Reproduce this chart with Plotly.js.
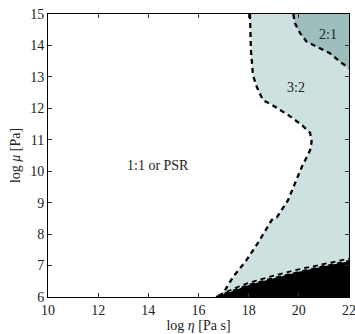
<!DOCTYPE html>
<html><head><meta charset="utf-8">
<script src="https://cdn.plot.ly/plotly-3.0.1.min.js"></script>
<style>html,body{margin:0;padding:0;background:#fff}#c{width:355px;height:334px}</style>
</head><body><div id="c"></div>
<script>
// Boundary between 1:1/PSR and 3:2 (log eta, log mu)
const b32x = [18.05,18.09,18.17,18.32,18.57,18.93,19.57,20.12,20.45,20.51,20.45,20.12,19.85,19.57,19.13,18.92,18.37,17.92,17.38,17.06,16.86];
const b32y = [15.0,13.85,13.06,12.69,12.26,12.11,11.79,11.47,11.22,10.94,10.67,10.14,9.62,9.08,8.54,8.45,7.72,7.18,6.64,6.22,6.03];
// Boundary of 2:1 region
const b21x = [19.78,19.85,20.05,20.31,20.71,21.24,21.64,21.91,22.0];
const b21y = [15.0,14.70,14.39,14.12,13.96,13.75,13.48,13.32,13.28];
// Top of black region
const blkx = [16.7,17.4,18.0,19.0,20.0,21.0,22.0];
const blky = [6.0,6.2,6.38,6.6,6.8,6.98,7.14];
// Upper dashed line just above black region
const upx = [16.8,17.5,18.0,19.0,20.0,21.0,22.0];
const upy = [6.05,6.3,6.45,6.68,6.88,7.05,7.22];
const xTicks = [10,12,14,16,18,20,22];
const yTicks = [6,7,8,9,10,11,12,13,14,15];
const labels = [{t:'2:1',x:21.18,y:14.36},{t:'3:2',x:19.89,y:12.65},{t:'1:1 or PSR',x:14.39,y:10.17}];

const light = 'rgb(206,225,225)', dark = 'rgb(158,190,190)';
const dash = {color:'black', width:2.3, dash:'5px,4px'};
const traces = [
  {x:b32x.concat([22,22]), y:b32y.concat([6,15]), fill:'toself', fillcolor:light, mode:'none', type:'scatter', hoverinfo:'skip'},
  {x:b21x.concat([22]), y:b21y.concat([15]), fill:'toself', fillcolor:dark, mode:'none', type:'scatter', hoverinfo:'skip'},
  {x:blkx.concat([22]), y:blky.concat([6]), fill:'toself', fillcolor:'black', mode:'none', type:'scatter', hoverinfo:'skip'},
  {x:b32x, y:b32y, mode:'lines', line:dash, type:'scatter'},
  {x:b21x, y:b21y, mode:'lines', line:dash, type:'scatter'},
  {x:blkx, y:blky, mode:'lines', line:dash, type:'scatter'},
  {x:upx, y:upy, mode:'lines', line:{color:'black', width:1.8, dash:'5px,4px'}, type:'scatter'}
];
const font = {family:'"Liberation Serif", "DejaVu Serif", serif', size:14, color:'#222'};
const axisCommon = {ticks:'inside', ticklen:4, tickcolor:'#333', mirror:'ticks', showline:true, linecolor:'black', linewidth:1, showgrid:false, zeroline:false, ticklabeloverflow:'allow', tickfont:font};
const layout = {
  width:355, height:334, showlegend:false,
  margin:{l:48, r:6, t:14, b:37},
  paper_bgcolor:'white', plot_bgcolor:'white', font:font,
  xaxis:Object.assign({range:[10,22], tickvals:xTicks, title:{text:'log <i>η</i> [Pa s]', font:font, standoff:2}}, axisCommon),
  yaxis:Object.assign({range:[6,15], tickvals:yTicks, title:{text:'log <i>μ</i> [Pa]', font:font, standoff:6}}, axisCommon),
  annotations: labels.map(l=>({x:l.x, y:l.y, text:l.t, showarrow:false, font:font}))
};
Plotly.newPlot('c', traces, layout, {displayModeBar:false, staticPlot:true});
</script></body></html>
